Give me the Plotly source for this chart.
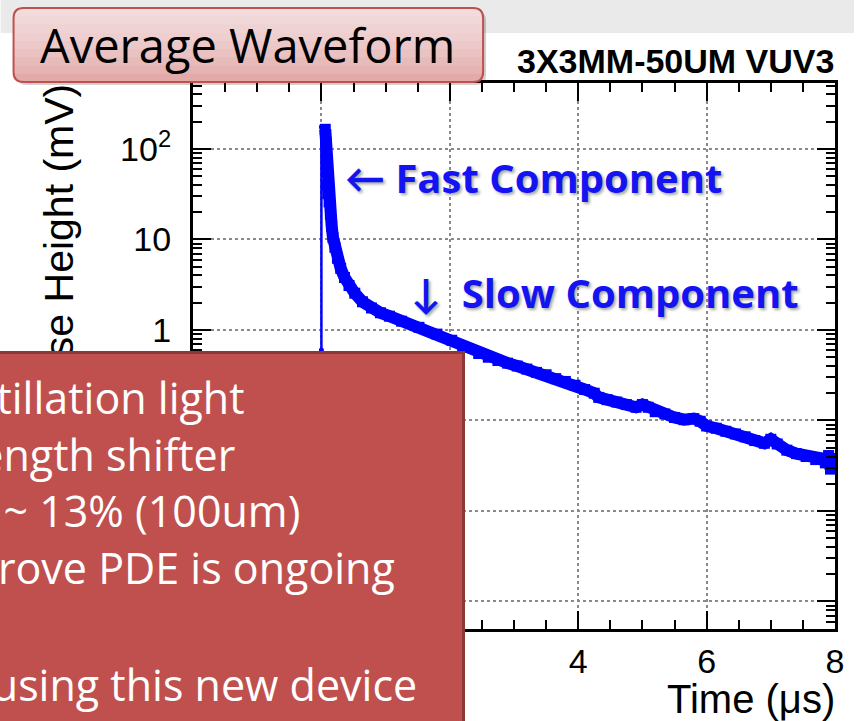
import plotly.graph_objects as go

# --- datos ---
rise_time = [0.0, 0.0]
rise_mv = [0.6, 175]

time_us = [0.06, 0.07, 0.075, 0.08, 0.09, 0.10, 0.12, 0.14, 0.16, 0.18, 0.21, 0.25,
           0.30, 0.36, 0.43, 0.52, 0.64, 0.78, 0.92, 1.06, 1.25, 1.52, 1.80, 2.03,
           2.20, 2.45, 2.60, 2.75, 2.90, 3.05, 3.20, 3.35, 3.50, 3.65, 3.80, 3.95,
           4.10, 4.25, 4.32, 4.45, 4.60, 4.75, 4.90, 5.00, 5.09, 5.20, 5.35, 5.50,
           5.65, 5.80, 5.90, 6.00, 6.15, 6.30, 6.45, 6.60, 6.75, 6.90, 7.00, 7.10,
           7.25, 7.40, 7.55, 7.70, 7.80, 7.85, 7.90, 7.93, 7.97, 8.00]
height_mv = [165, 120, 80, 55, 40, 32, 26, 19, 14, 10.5, 8.2, 6.2,
             4.8, 3.8, 3.1, 2.55, 2.05, 1.75, 1.55, 1.42, 1.25, 1.07, 0.90, 0.77,
             0.65, 0.55, 0.50, 0.46, 0.43, 0.40, 0.37, 0.34, 0.32, 0.29, 0.27, 0.245,
             0.22, 0.20, 0.18, 0.17, 0.16, 0.15, 0.14, 0.15, 0.14, 0.125, 0.118, 0.108,
             0.102, 0.105, 0.098, 0.087, 0.082, 0.076, 0.071, 0.066, 0.060, 0.056, 0.062, 0.055,
             0.047, 0.043, 0.040, 0.037, 0.038, 0.034, 0.041, 0.029, 0.038, 0.034]

x_ticks = [-2, 0, 2, 4, 6, 8]
y_ticks = [1e-3, 1e-2, 1e-1, 1, 10, 100]
y_ticktext = ["10<sup>-3</sup>", "10<sup>-2</sup>", "10<sup>-1</sup>", "1", "10", "10<sup>2</sup>"]

bullet_lines = ["• Detects LAr scintillation light",
                "without wavelength shifter",
                "• PDE ~ 7% (50um) ~ 13% (100um)",
                "• R&D to improve PDE is ongoing",
                "• Build a test stand using this new device"]

# geometria (pixeles) del area del grafico
W, H = 856, 721
L, R, T, B = 193, 837, 83, 629


def px(x):
    return (x - L) / (R - L)


def py(y):
    return (B - y) / (B - T)


fig = go.Figure()
fig.add_trace(go.Scatter(x=rise_time, y=rise_mv, mode='lines+markers',
                         line=dict(color='#0000FF', width=2.5),
                         marker=dict(size=5, color='#0000FF')))
fig.add_trace(go.Scatter(x=time_us, y=height_mv, mode='lines+markers',
                         line=dict(color='#0000FF', width=12),
                         marker=dict(symbol='square', size=11, color='#0000FF')))

axis_font = dict(family='Liberation Sans, Arial', size=34, color='black')
minor_y = [m * 10 ** e for e in range(-4, 3) for m in range(2, 10)]

fig.update_xaxes(range=[-2, 8], tickmode='array', tickvals=x_ticks,
                 ticks='inside', ticklen=18, tickwidth=2, tickcolor='black',
                 showline=True, linewidth=3, linecolor='black', mirror='ticks',
                 showgrid=True, gridcolor='#8a8a8a', griddash='dot', gridwidth=1.5,
                 zeroline=False, tickfont=axis_font, ticklabelstandoff=0,
                 minor=dict(dtick=0.5, ticks='inside', ticklen=9, tickwidth=2,
                            tickcolor='black', showgrid=False))
fig.update_yaxes(type='log', range=[-3.304, 2.729], tickmode='array',
                 tickvals=y_ticks, ticktext=y_ticktext,
                 ticks='inside', ticklen=18, tickwidth=2, tickcolor='black',
                 showline=True, linewidth=3, linecolor='black', mirror='ticks',
                 showgrid=True, gridcolor='#8a8a8a', griddash='dot', gridwidth=1.5,
                 zeroline=False, tickfont=axis_font, ticklabelstandoff=12,
                 minor=dict(tickvals=minor_y, ticks='inside', ticklen=9, tickwidth=2,
                            tickcolor='black', showgrid=False))

shapes = []
# franja gris superior
shapes.append(dict(type='rect', xref='paper', yref='paper', layer='below',
                   x0=px(0), x1=px(W), y0=py(33), y1=py(0),
                   fillcolor='#EAEAEA', line=dict(width=0)))

# caja del titulo (rectangulo redondeado con degradado)
bx0, bx1, by0, by1, rad = 13, 484, 8, 82, 10


def rounded(x0, x1, y0, y1, r, round_bottom=True):
    p = f"M {px(x0 + r)},{py(y0)} L {px(x1 - r)},{py(y0)} Q {px(x1)},{py(y0)} {px(x1)},{py(y0 + r)} "
    if round_bottom:
        p += f"L {px(x1)},{py(y1 - r)} Q {px(x1)},{py(y1)} {px(x1 - r)},{py(y1)} "
        p += f"L {px(x0 + r)},{py(y1)} Q {px(x0)},{py(y1)} {px(x0)},{py(y1 - r)} "
    else:
        p += f"L {px(x1)},{py(y1)} L {px(x0)},{py(y1)} "
    p += f"L {px(x0)},{py(y0 + r)} Q {px(x0)},{py(y0)} {px(x0 + r)},{py(y0)} Z"
    return p


shapes.append(dict(type='path', xref='paper', yref='paper', layer='above',
                   path=rounded(bx0 + 3, bx1 + 3, by0 + 3, by1 + 3, rad),
                   fillcolor='rgba(0,0,0,0.18)', line=dict(width=0)))
shapes.append(dict(type='path', xref='paper', yref='paper', layer='above',
                   path=rounded(bx0, bx1, by0, by1, rad),
                   fillcolor='#E3AAAA', line=dict(width=0)))
n = 8
for i in range(n):
    yb = by1 - (by1 - by0) * (i + 1) / (n + 1)
    shapes.append(dict(type='path', xref='paper', yref='paper', layer='above',
                       path=rounded(bx0, bx1, by0, yb, rad, round_bottom=False),
                       fillcolor='rgba(255,255,255,0.11)', line=dict(width=0)))
shapes.append(dict(type='path', xref='paper', yref='paper', layer='above',
                   path=rounded(bx0, bx1, by0, by1, rad),
                   fillcolor='rgba(0,0,0,0)', line=dict(color='#C0504D', width=2)))

slide_font = 'Open Sans, Lato, sans-serif'
blue_font = dict(family=slide_font, size=40, color='#1414F2', weight='bold',
                 shadow='2px 2px 3px rgba(0,0,0,0.35)')

annotations = [
    # titulo del eje y (debajo de la caja roja)
    dict(text='Pulse Height (mV)', x=px(59), y=py(250), xref='paper', yref='paper',
         xanchor='center', yanchor='middle', textangle=-90, showarrow=False,
         font=dict(family='Liberation Sans, Arial', size=41, color='black')),
    # caja roja
    dict(text=' ', x=px(466), y=py(351), xref='paper', yref='paper',
         xanchor='right', yanchor='top', showarrow=False, width=520, height=400,
         bgcolor='#C0504D', bordercolor='#8C3836', borderwidth=3),
    dict(text='3X3MM-50UM VUV3', x=px(838), y=py(61), xref='paper', yref='paper',
         xanchor='right', yanchor='middle', showarrow=False,
         font=dict(family='Liberation Sans, Arial', size=34, color='black', weight='bold')),
    dict(text='Time (μs)', x=px(839), y=py(699), xref='paper', yref='paper',
         xanchor='right', yanchor='middle', showarrow=False,
         font=dict(family='Liberation Sans, Arial', size=40, color='black')),
    dict(text='Average Waveform', x=px(248), y=py(45), xref='paper', yref='paper',
         xanchor='center', yanchor='middle', showarrow=False,
         font=dict(family=slide_font, size=47, color='black')),
    dict(text='← Fast Component', x=px(343), y=py(177), xref='paper', yref='paper',
         xanchor='left', yanchor='middle', showarrow=False, font=blue_font),
    dict(text='↓  Slow Component', x=px(410), y=py(292), xref='paper', yref='paper',
         xanchor='left', yanchor='middle', showarrow=False, font=blue_font),
]

line_right = [247, 237, 302, 398, 420]
line_mid = [397, 454, 510, 567, 684]
for txt, xr, ym in zip(bullet_lines, line_right, line_mid):
    annotations.append(dict(text=txt, x=px(xr), y=py(ym), xref='paper', yref='paper',
                            xanchor='right', yanchor='middle', showarrow=False,
                            font=dict(family=slide_font, size=43, color='white')))

fig.update_layout(width=W, height=H, margin=dict(l=L, r=W - R, t=T, b=H - B),
                  paper_bgcolor='white', plot_bgcolor='white', showlegend=False,
                  shapes=shapes, annotations=annotations)

# sin margen del body para que la figura empiece en (0, 0)
fig.write_html("out.html", config={'displayModeBar': False},
               post_script="document.body.style.margin='0';")
